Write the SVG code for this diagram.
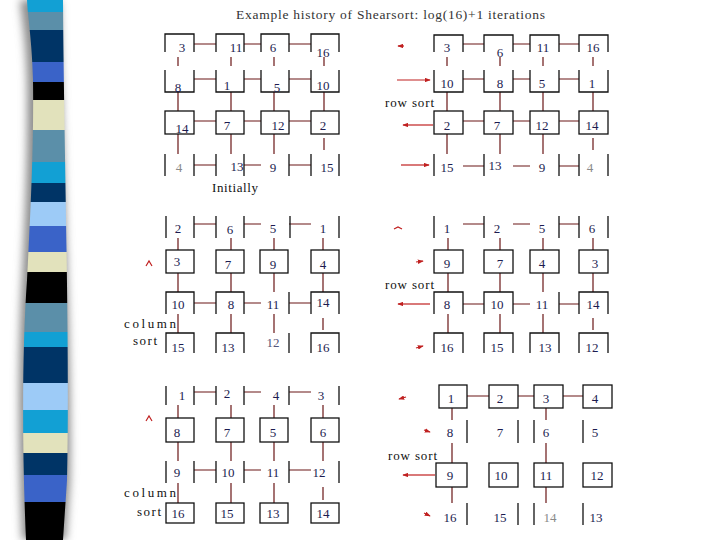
<svg xmlns="http://www.w3.org/2000/svg" width="720" height="540" viewBox="0 0 720 540">
<defs>
<style>
.cell{fill:none;stroke:#111;stroke-width:1.3}
.num{font-family:"Liberation Serif","DejaVu Serif",serif;font-size:13px;fill:#1c1c50;text-anchor:middle;dominant-baseline:central}
.gray{fill:#8a8a8a}
.lite{fill:#55557a}
.lbl{font-family:"Liberation Serif","DejaVu Serif",serif;font-size:13px;fill:#111}
.con{fill:none;stroke:#6a1616;stroke-width:1.2}
.arr{fill:none;stroke:#c02020;stroke-width:1.2}
</style>
<marker id="ah" viewBox="0 0 8 6" refX="7" refY="3" markerWidth="6" markerHeight="4.5" orient="auto" markerUnits="userSpaceOnUse">
<path d="M0,0 L8,3 L0,6 Z" fill="#c02020"/>
</marker>
<clipPath id="band">
<path d="M27,0 L63,0 C64,150 70,350 67,480 L63,540 L26,540 C22,450 22,350 27,280 C30,220 34,150 33,80 C32,40 28,20 27,0 Z"/>
</clipPath>
<filter id="blur" x="-50%" y="-10%" width="200%" height="120%"><feGaussianBlur stdDeviation="4"/></filter>
</defs>
<rect width="720" height="540" fill="#fff"/>

<g id="stripe-band">
<path d="M20,0 L60,0 C62,150 72,350 70,480 L66,540 L22,540 C18,450 18,350 22,280 C25,220 28,150 27,80 C26,40 22,20 20,0 Z" fill="#8c8c8c" filter="url(#blur)"/>
<g clip-path="url(#band)">
<rect x="0" y="0" width="80" height="12" fill="#12a0d4"/>
<rect x="0" y="12" width="80" height="18" fill="#5b8fa9"/>
<rect x="0" y="30" width="80" height="32" fill="#003466"/>
<rect x="0" y="62" width="80" height="20" fill="#3a63c8"/>
<rect x="0" y="82" width="80" height="18" fill="#000"/>
<rect x="0" y="100" width="80" height="30" fill="#e2e2bc"/>
<rect x="0" y="130" width="80" height="32" fill="#5b8fa9"/>
<rect x="0" y="162" width="80" height="21" fill="#12a0d4"/>
<rect x="0" y="183" width="80" height="19" fill="#003466"/>
<rect x="0" y="202" width="80" height="24" fill="#9dcbf7"/>
<rect x="0" y="226" width="80" height="26" fill="#3a63c8"/>
<rect x="0" y="252" width="80" height="20" fill="#e2e2bc"/>
<rect x="0" y="272" width="80" height="31" fill="#000"/>
<rect x="0" y="303" width="80" height="29" fill="#5b8fa9"/>
<rect x="0" y="332" width="80" height="15" fill="#12a0d4"/>
<rect x="0" y="347" width="80" height="36" fill="#003466"/>
<rect x="0" y="383" width="80" height="27" fill="#9dcbf7"/>
<rect x="0" y="410" width="80" height="23" fill="#12a0d4"/>
<rect x="0" y="433" width="80" height="20" fill="#e2e2bc"/>
<rect x="0" y="453" width="80" height="22" fill="#003466"/>
<rect x="0" y="475" width="80" height="27" fill="#3a63c8"/>
<rect x="0" y="502" width="80" height="38" fill="#000"/>
</g>
</g>

<text x="236" y="19" font-family="Liberation Serif, serif" font-size="13.5" fill="#333" textLength="309" lengthAdjust="spacing">Example  history of Shearsort: log(16)+1  iterations</text>

<g id="connectors">
<!-- grid A -->
<path class="con" d="M194,44H216M244,44H261M289,44H311 M194,79H216M244,79H261M289,79H311 M194,121H216M244,121H261M289,121H311 M194,165H216M244,165H261M289,165H311"/>
<path class="con" d="M178,57V66M231,57V66M274,57V66M324,57V66 M178,92V111M231,92V111M274,92V111M324,92V111 M178,134V154M231,134V154M274,134V154M324,138V150"/>
<!-- grid B -->
<path class="con" d="M463,44H484M513,44H530M559,44H579 M463,79H484M513,79H530M559,79H579 M463,121H484M513,121H530M559,121H579 M463,166H484M513,166H530M559,166H579"/>
<path class="con" d="M447,57V66M500,57V66M543,57V66M593,57V66 M447,92V111M500,92V111M543,92V111M593,92V111 M447,134V154M500,134V154M543,134V154M593,138V150"/>
<!-- grid C -->
<path class="con" d="M194,224H216M244,224H261M289,224H311 M194,303H216M244,303H261M289,303H311"/>
<path class="con" d="M178,238V250M231,238V250M274,238V250M323,238V250 M178,273V292M231,273V292M274,273V292M323,273V292 M178,314V333M231,314V333M274,314V333M323,318V330"/>
<!-- grid D -->
<path class="con" d="M463,224H484M513,224H530M559,224H579 M463,304H484M513,304H530M559,304H579"/>
<path class="con" d="M448,238V250M500,238V250M543,238V250M593,238V250 M448,273V292M500,273V292M543,273V292M593,273V292 M448,314V333M500,314V333M543,314V333M593,318V330"/>
<!-- grid E -->
<path class="con" d="M194,392H216M244,392H261M289,392H311 M194,470H216M244,470H261M289,470H311"/>
<path class="con" d="M178,405V418M231,405V418M274,405V418M323,405V418 M178,442V461M231,442V461M274,442V461M323,442V461 M178,483V503M231,483V503M274,483V503M323,487V500"/>
<!-- grid F -->
<path class="con" d="M467,396H489M518,396H534M563,396H583"/>
<path class="con" d="M452,408V420M546,408V420 M452,443V463M546,443V463 M452,487V503M546,487V503"/>
<!-- red direction arrows -->
<path class="arr" d="M404,46H398" marker-end="url(#ah)"/>
<path class="arr" d="M397,80H430" marker-end="url(#ah)"/>
<path class="arr" d="M433,125H403" marker-end="url(#ah)"/>
<path class="arr" d="M401,165H429" marker-end="url(#ah)"/>
<path class="arr" d="M394,229L398,227L402,229"/>
<path class="arr" d="M416,262L423,261" marker-end="url(#ah)"/>
<path class="arr" d="M430,304H398" marker-end="url(#ah)"/>
<path class="arr" d="M416,348L423,346" marker-end="url(#ah)"/>
<path class="arr" d="M406,397L399,399" marker-end="url(#ah)"/>
<path class="arr" d="M424,430L430,432" marker-end="url(#ah)"/>
<path class="arr" d="M435,475H403" marker-end="url(#ah)"/>
<path class="arr" d="M424,513L430,516" marker-end="url(#ah)"/>
<path class="arr" d="M146,266L149,261L152,266"/>
<path class="arr" d="M146,421L149,416L152,421"/>
</g>

<g id="grid-initial">
<g id="a00"><path class="cell" d="M165,52V34H194V52"/><text class="num" x="182" y="47">3</text></g>
<g id="a01"><path class="cell" d="M216,52V34H244V52"/><text class="num" x="236" y="47">11</text></g>
<g id="a02"><path class="cell" d="M261,52V34H289V52"/><text class="num" x="273" y="47">6</text></g>
<g id="a03"><path class="cell" d="M311,52V34H339V52"/><text class="num" x="323" y="52">16</text></g>
<g id="a10"><path class="cell" d="M165,70V92H194V70"/><text class="num" x="178" y="87">8</text></g>
<g id="a11"><path class="cell" d="M216,70V92H244V70"/><text class="num" x="227" y="85">1</text></g>
<g id="a12"><path class="cell" d="M261,70V92H289V70"/><text class="num" x="277" y="87">5</text></g>
<g id="a13"><path class="cell" d="M311,70V92H339V70"/><text class="num" x="323" y="85">10</text></g>
<g id="a20"><rect class="cell" x="165" y="111" width="29" height="23"/><text class="num" x="182" y="128">14</text></g>
<g id="a21"><rect class="cell" x="216" y="111" width="28" height="23"/><text class="num" x="227" y="125">7</text></g>
<g id="a22"><rect class="cell" x="261" y="111" width="28" height="23"/><text class="num" x="278" y="125">12</text></g>
<g id="a23"><rect class="cell" x="311" y="111" width="28" height="23"/><text class="num" x="323" y="125">2</text></g>
<g id="a30"><path class="cell" d="M165,154V176M194,154V176"/><text class="num gray" x="179" y="167">4</text></g>
<g id="a31"><path class="cell" d="M216,154V176M244,154V176"/><text class="num" x="237" y="166">13</text></g>
<g id="a32"><path class="cell" d="M289,154V176"/><text class="num" x="273" y="167">9</text></g>
<g id="a33"><path class="cell" d="M311,154V176M339,154V176"/><text class="num" x="327" y="167">15</text></g>
<text class="lbl" x="212" y="192" textLength="46" lengthAdjust="spacing">Initially</text>
</g>

<g id="grid-rowsort1">
<g id="b00"><path class="cell" d="M434,52V35H463V52"/><text class="num" x="447" y="47">3</text></g>
<g id="b01"><path class="cell" d="M484,52V35H513V52"/><text class="num" x="500" y="52">6</text></g>
<g id="b02"><path class="cell" d="M530,52V35H559V52"/><text class="num" x="543" y="47">11</text></g>
<g id="b03"><path class="cell" d="M579,52V35H608V52"/><text class="num" x="593" y="47">16</text></g>
<g id="b10"><path class="cell" d="M434,70V92H463V70"/><text class="num" x="447" y="83">10</text></g>
<g id="b11"><path class="cell" d="M484,70V92H513V70"/><text class="num" x="500" y="83">8</text></g>
<g id="b12"><path class="cell" d="M530,70V92H559V70"/><text class="num" x="542" y="83">5</text></g>
<g id="b13"><path class="cell" d="M579,70V92H608V70"/><text class="num" x="592" y="83">1</text></g>
<g id="b20"><rect class="cell" x="434" y="111" width="29" height="23"/><text class="num" x="447" y="125">2</text></g>
<g id="b21"><rect class="cell" x="484" y="111" width="29" height="23"/><text class="num" x="497" y="125">7</text></g>
<g id="b22"><rect class="cell" x="530" y="111" width="29" height="23"/><text class="num" x="542" y="125">12</text></g>
<g id="b23"><rect class="cell" x="579" y="111" width="29" height="23"/><text class="num" x="592" y="125">14</text></g>
<g id="b30"><path class="cell" d="M434,154V176"/><text class="num" x="447" y="167">15</text></g>
<g id="b31"><path class="cell" d="M484,154V176"/><text class="num" x="495" y="165">13</text></g>
<g id="b32"><path class="cell" d="M559,154V176"/><text class="num" x="542" y="167">9</text></g>
<g id="b33"><path class="cell" d="M579,154V176M608,154V176"/><text class="num gray" x="590" y="167">4</text></g>
<text class="lbl" x="385" y="107" textLength="49" lengthAdjust="spacing">row sort</text>
</g>

<g id="grid-colsort1">
<g id="c00"><path class="cell" d="M166,216V238M194,216V238"/><text class="num" x="178" y="228">2</text></g>
<g id="c01"><path class="cell" d="M216,216V238M244,216V238"/><text class="num" x="230" y="229">6</text></g>
<g id="c02"><path class="cell" d="M290,216V238"/><text class="num" x="273" y="228">5</text></g>
<g id="c03"><path class="cell" d="M339,216V238"/><text class="num" x="323" y="228">1</text></g>
<g id="c10"><rect class="cell" x="166" y="250" width="28" height="23"/><text class="num" x="177" y="261">3</text></g>
<g id="c11"><rect class="cell" x="216" y="250" width="28" height="23"/><text class="num" x="228" y="264">7</text></g>
<g id="c12"><rect class="cell" x="260" y="250" width="28" height="23"/><text class="num" x="273" y="264">9</text></g>
<g id="c13"><rect class="cell" x="311" y="250" width="28" height="23"/><text class="num" x="323" y="264">4</text></g>
<g id="c20"><path class="cell" d="M166,314V292H194V314"/><text class="num" x="178" y="304">10</text></g>
<g id="c21"><path class="cell" d="M216,314V292H244V314"/><text class="num" x="231" y="304">8</text></g>
<g id="c22"><path class="cell" d="M289,292V314"/><text class="num" x="273" y="304">11</text></g>
<g id="c23"><path class="cell" d="M311,314V292H339V314"/><text class="num" x="323" y="302">14</text></g>
<g id="c30"><path class="cell" d="M166,353V333H194V353"/><text class="num" x="178" y="347">15</text></g>
<g id="c31"><path class="cell" d="M216,353V333H244V353"/><text class="num" x="228" y="347">13</text></g>
<g id="c32"><path class="cell" d="M289,333V353"/><text class="num lite" x="273" y="342">12</text></g>
<g id="c33"><path class="cell" d="M311,353V333H339V353"/><text class="num" x="323" y="347">16</text></g>
<text class="lbl" x="124" y="328" textLength="52" lengthAdjust="spacing">column</text>
<text class="lbl" x="133" y="345" textLength="24" lengthAdjust="spacing">sort</text>
</g>

<g id="grid-rowsort2">
<g id="d00"><path class="cell" d="M434,216V238"/><text class="num" x="447" y="228">1</text></g>
<g id="d01"><path class="cell" d="M484,216V238"/><text class="num" x="497" y="228">2</text></g>
<g id="d02"><path class="cell" d="M559,216V238"/><text class="num" x="542" y="228">5</text></g>
<g id="d03"><path class="cell" d="M579,216V238M608,216V238"/><text class="num" x="592" y="228">6</text></g>
<g id="d10"><rect class="cell" x="434" y="250" width="29" height="23"/><text class="num" x="447" y="263">9</text></g>
<g id="d11"><rect class="cell" x="484" y="250" width="29" height="23"/><text class="num" x="500" y="263">7</text></g>
<g id="d12"><rect class="cell" x="530" y="250" width="29" height="23"/><text class="num" x="542" y="263">4</text></g>
<g id="d13"><rect class="cell" x="579" y="250" width="29" height="23"/><text class="num" x="595" y="263">3</text></g>
<g id="d20"><path class="cell" d="M434,314V292H463V314"/><text class="num" x="447" y="304">8</text></g>
<g id="d21"><path class="cell" d="M484,314V292H513V314"/><text class="num" x="497" y="304">10</text></g>
<g id="d22"><path class="cell" d="M559,314V292"/><text class="num" x="542" y="304">11</text></g>
<g id="d23"><path class="cell" d="M579,314V292H608V314"/><text class="num" x="593" y="304">14</text></g>
<g id="d30"><path class="cell" d="M434,353V333H463V353"/><text class="num" x="447" y="347">16</text></g>
<g id="d31"><path class="cell" d="M484,353V333H513V353"/><text class="num" x="497" y="347">15</text></g>
<g id="d32"><path class="cell" d="M530,353V333H559V353"/><text class="num" x="545" y="347">13</text></g>
<g id="d33"><path class="cell" d="M579,353V333H608V353"/><text class="num" x="592" y="347">12</text></g>
<text class="lbl" x="385" y="289" textLength="49" lengthAdjust="spacing">row sort</text>
</g>

<g id="grid-colsort2">
<g id="e00"><path class="cell" d="M166,386V405M194,386V405"/><text class="num" x="182" y="395">1</text></g>
<g id="e01"><path class="cell" d="M216,386V405M244,386V405"/><text class="num" x="227" y="393">2</text></g>
<g id="e02"><path class="cell" d="M289,386V405"/><text class="num" x="276" y="395">4</text></g>
<g id="e03"><path class="cell" d="M339,386V405"/><text class="num" x="321" y="395">3</text></g>
<g id="e10"><rect class="cell" x="166" y="418" width="28" height="24"/><text class="num" x="177" y="432">8</text></g>
<g id="e11"><rect class="cell" x="216" y="418" width="28" height="24"/><text class="num" x="227" y="432">7</text></g>
<g id="e12"><rect class="cell" x="260" y="418" width="28" height="24"/><text class="num" x="273" y="432">5</text></g>
<g id="e13"><rect class="cell" x="311" y="418" width="28" height="24"/><text class="num" x="323" y="432">6</text></g>
<g id="e20"><path class="cell" d="M166,461V483M194,461V483"/><text class="num" x="177" y="472">9</text></g>
<g id="e21"><path class="cell" d="M216,461V483M244,461V483"/><text class="num" x="228" y="472">10</text></g>
<g id="e22"><path class="cell" d="M289,461V483"/><text class="num" x="273" y="472">11</text></g>
<g id="e23"><path class="cell" d="M339,461V483"/><text class="num" x="319" y="472">12</text></g>
<g id="e30"><rect class="cell" x="166" y="503" width="28" height="20"/><text class="num" x="178" y="513">16</text></g>
<g id="e31"><rect class="cell" x="216" y="503" width="28" height="20"/><text class="num" x="227" y="513">15</text></g>
<g id="e32"><rect class="cell" x="260" y="503" width="28" height="20"/><text class="num" x="273" y="513">13</text></g>
<g id="e33"><rect class="cell" x="311" y="503" width="28" height="20"/><text class="num" x="323" y="513">14</text></g>
<text class="lbl" x="124" y="497" textLength="52" lengthAdjust="spacing">column</text>
<text class="lbl" x="137" y="516" textLength="24" lengthAdjust="spacing">sort</text>
</g>

<g id="grid-rowsort3">
<g id="f00"><rect class="cell" x="439" y="385" width="28" height="23"/><text class="num" x="451" y="398">1</text></g>
<g id="f01"><rect class="cell" x="489" y="385" width="29" height="23"/><text class="num" x="500" y="398">2</text></g>
<g id="f02"><rect class="cell" x="534" y="385" width="29" height="23"/><text class="num" x="546" y="398">3</text></g>
<g id="f03"><rect class="cell" x="583" y="385" width="29" height="23"/><text class="num" x="595" y="398">4</text></g>
<g id="f10"><path class="cell" d="M467,420V443"/><text class="num" x="450" y="432">8</text></g>
<g id="f11"><path class="cell" d="M518,420V443"/><text class="num" x="500" y="432">7</text></g>
<g id="f12"><path class="cell" d="M534,420V443"/><text class="num" x="546" y="432">6</text></g>
<g id="f13"><path class="cell" d="M583,420V443"/><text class="num" x="595" y="432">5</text></g>
<g id="f20"><rect class="cell" x="436" y="463" width="31" height="24"/><text class="num" x="450" y="475">9</text></g>
<g id="f21"><rect class="cell" x="489" y="463" width="29" height="24"/><text class="num" x="501" y="475">10</text></g>
<g id="f22"><rect class="cell" x="534" y="463" width="29" height="24"/><text class="num" x="546" y="475">11</text></g>
<g id="f23"><rect class="cell" x="583" y="463" width="29" height="24"/><text class="num" x="597" y="475">12</text></g>
<g id="f30"><path class="cell" d="M467,503V525"/><text class="num" x="450" y="517">16</text></g>
<g id="f31"><path class="cell" d="M518,503V525"/><text class="num" x="500" y="517">15</text></g>
<g id="f32"><path class="cell" d="M534,503V525"/><text class="num gray" x="550" y="517">14</text></g>
<g id="f33"><path class="cell" d="M583,503V525"/><text class="num" x="596" y="517">13</text></g>
<text class="lbl" x="388" y="460" textLength="49" lengthAdjust="spacing">row sort</text>
</g>
</svg>
